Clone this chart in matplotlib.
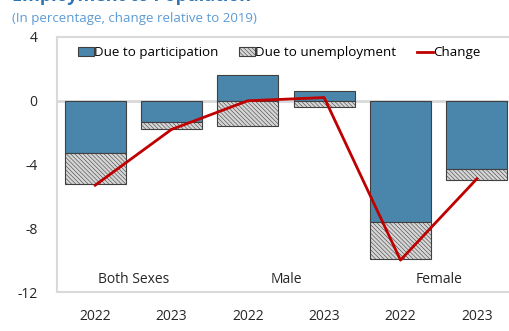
import numpy as np
import matplotlib
matplotlib.use("Agg")
import matplotlib.pyplot as plt
from matplotlib.patches import Patch
from matplotlib.lines import Line2D

plt.rcParams['font.family'] = ['Open Sans', 'DejaVu Sans']
plt.rcParams['hatch.color'] = '#9a9a9a'
plt.rcParams['hatch.linewidth'] = 0.4

# data
years = ["2022", "2023", "2022", "2023", "2022", "2023"]
groups = ["Both Sexes", "Male", "Female"]
participation = [-3.3, -1.35, 1.6, 0.6, -7.6, -4.3]
unemployment = [-1.95, -0.45, -1.6, -0.4, -2.3, -0.65]
change = [-5.3, -1.8, 0.0, 0.2, -10.0, -4.9]

bar_blue = '#4a86ab'
line_red = '#c00000'
frame_grey = '#d9d9d9'
hatch_fill = '#d6d6d6'
hatch = '\\\\\\\\\\\\\\\\'

fig = plt.figure(figsize=(5.09, 3.31), dpi=100)
ax = fig.add_axes([57 / 509, 39 / 331, 458 / 509, 255 / 331])

x = np.arange(len(years))
part = np.array(participation)
unemp = np.array(unemployment)

# stack: unemployment bar starts from the end of the participation bar on its side of zero
pos_base = np.where(part > 0, part, 0)
neg_base = np.where(part < 0, part, 0)
unemp_base = np.where(unemp < 0, neg_base, pos_base)

ax.axhline(0, color=frame_grey, lw=2, zorder=1)
ax.bar(x, part, width=0.8, color=bar_blue, edgecolor='#404040', linewidth=0.8, zorder=2)
ax.bar(x, unemp, width=0.8, bottom=unemp_base, color=hatch_fill, hatch=hatch,
       edgecolor='#404040', linewidth=0.8, zorder=2)
ax.plot(x, change, color=line_red, lw=2, zorder=3)

ax.set_xlim(-0.5, 5.5)
ax.set_ylim(-12, 4)
ax.set_yticks([4, 0, -4, -8, -12])
ax.set_yticklabels(["4", "0", "-4", "-8", "-12"])
ax.set_xticks(x)
ax.set_xticklabels(years)
ax.tick_params(axis='both', length=0, labelsize=10, colors='#262626')
ax.tick_params(axis='x', pad=12)
ax.tick_params(axis='y', pad=14)
for s in ax.spines.values():
    s.set_color(frame_grey)
    s.set_linewidth(1.5)

for i, g in enumerate(groups):
    ax.text(2 * i + 0.5, -11.2, g, ha='center', va='center', fontsize=10, color='#262626')

handles = [Patch(facecolor=bar_blue, edgecolor='#404040', linewidth=0.8),
           Patch(facecolor=hatch_fill, edgecolor='#404040', hatch=hatch, linewidth=0.8),
           Line2D([0], [0], color=line_red, lw=2)]
ax.legend(handles, ["Due to participation", "Due to unemployment", "Change"],
          loc='upper left', bbox_to_anchor=(0.025, 1.0), ncol=3, frameon=False,
          fontsize=9.6, handlelength=1.2, handleheight=0.7, handletextpad=0.05,
          columnspacing=1.5, borderaxespad=0.3)

fig.text(12 / 509, 1 - 1 / 331, "Employment to Population", fontsize=13, fontweight='bold',
         color='#2e75b6', ha='left', va='baseline')
fig.text(12 / 509, 1 - 22 / 331, "(In percentage, change relative to 2019)", fontsize=9.5,
         color='#5b9bd5', ha='left', va='baseline')

fig.savefig("out.png", dpi=100)
